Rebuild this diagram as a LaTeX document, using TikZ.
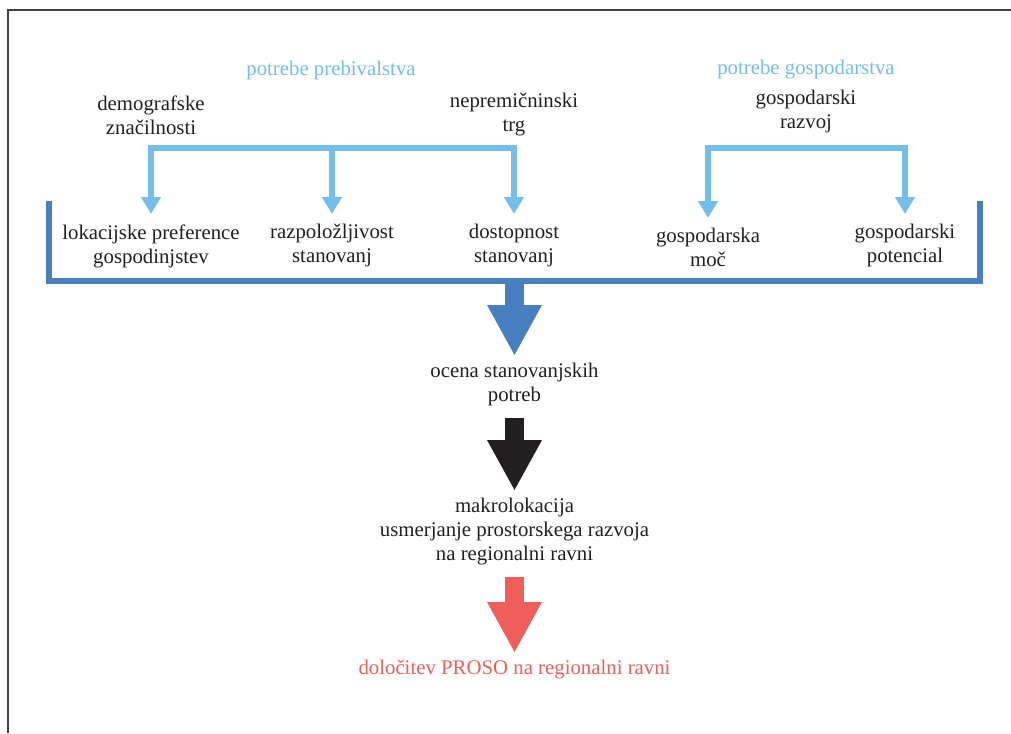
\documentclass[tikz,border=0pt]{standalone}
\usepackage{fontspec}
\setmainfont{Liberation Serif}
\usetikzlibrary{arrows.meta}

\definecolor{lightblue}{HTML}{74BEEA}
\definecolor{darkblue}{HTML}{487FC1}
\definecolor{redflow}{HTML}{EF5E5B}
\definecolor{ink}{HTML}{231F20}

\tikzset{
  txt/.style={text=ink, align=center, inner sep=0pt, font=\fontsize{10.4}{12}\selectfont},
  head/.style={txt, text=lightblue},
  box/.style={txt, anchor=north, inner ysep=5pt},
  step box/.style={txt, anchor=north, inner ysep=3.5pt},
  fork/.style={lightblue, line width=3pt, -{Triangle[width=9.5pt,length=8.5pt]}},
  flow/.style={line width=9.5pt, -{Triangle[width=25.5pt,length=25.5pt]}},
}

\begin{document}
\begin{tikzpicture}[x=0.5pt,y=-0.5pt]

\useasboundingbox (0,0) rectangle (1011,733) ;

% frame
\draw[ink!85, line width=0.75pt] (8,733) -- (8,10) -- (1011,10) ;

% headings
\node[head] (h_preb) at (331,70) {potrebe prebivalstva} ;
\node[head] (h_gosp) at (806,70) {potrebe gospodarstva} ;

\node[txt] (demo) at (151,115) {demografske\\značilnosti} ;
\node[txt] (trg) at (514,115) {nepremičninski\\trg} ;
\node[txt] (razvoj) at (806,111) {gospodarski\\razvoj} ;

% factors
\node[box] (lok) at (151,214) {lokacijske preference\\gospodinjstev} ;
\node[box] (razp) at (332,214) {razpoložljivost\\stanovanj} ;
\node[box] (dost) at (514,214) {dostopnost\\stanovanj} ;
\node[box,yshift=-2pt] (moc) at (708,214) {gospodarska\\moč} ;
\node[box] (pot) at (905,214) {gospodarski\\potencial} ;

\coordinate (f_preb) at (332,148) ;
\coordinate (f_gosp) at (806,148) ;

\draw[fork] (f_preb) -| (lok) ;
\draw[fork] (f_preb) -- (razp) ;
\draw[fork] (f_preb) -| (dost) ;
\draw[fork] (f_gosp) -| (moc) ;
\draw[fork] (f_gosp) -| (pot) ;

% bracket
\draw[darkblue, line width=3pt] (49,201) -- (49,281) -- (980,281) -- (980,201) ;
\coordinate (brk) at (514.5,281) ;

% result chain
\node[step box] (ocena) at (514.5,356) {ocena stanovanjskih\\potreb} ;
\node[step box] (makro) at (514.5,491) {makrolokacija\\usmerjanje prostorskega razvoja\\na regionalni ravni} ;
\node[step box, text=redflow] (proso) at (514.5,653) {določitev PROSO na regionalni ravni} ;

\draw[flow, darkblue] (brk) -- (ocena) ;
\draw[flow, ink, shorten <=2pt] (ocena) -- (makro) ;
\draw[flow, redflow, shorten <=2pt] (makro) -- (proso) ;

\end{tikzpicture}
\end{document}
